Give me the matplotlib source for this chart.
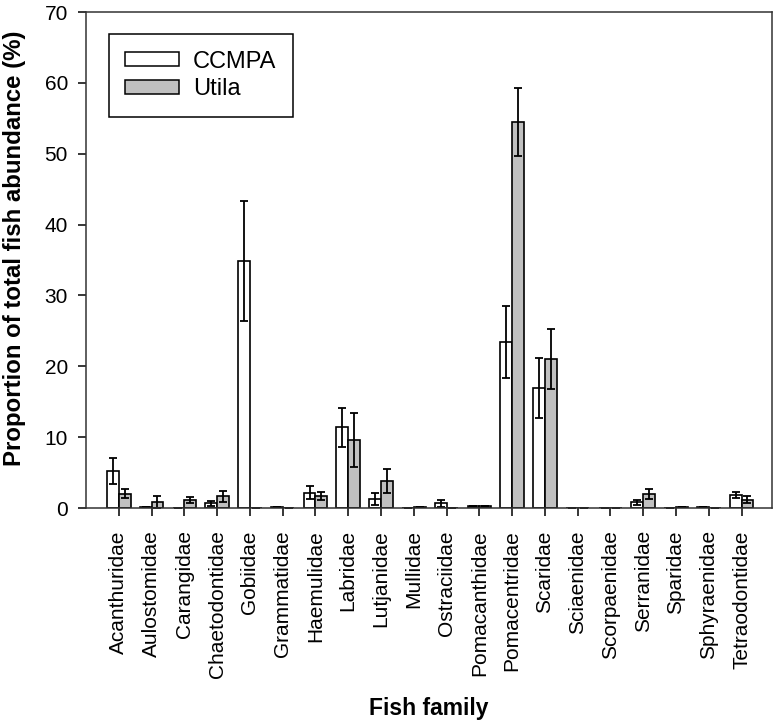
import numpy as np
import matplotlib
matplotlib.use("Agg")
import matplotlib.pyplot as plt

families = ["Acanthuridae", "Aulostomidae", "Carangidae", "Chaetodontidae", "Gobiidae",
            "Grammatidae", "Haemulidae", "Labridae", "Lutjanidae", "Mullidae",
            "Ostraciidae", "Pomacanthidae", "Pomacentridae", "Scaridae", "Sciaenidae",
            "Scorpaenidae", "Serranidae", "Sparidae", "Sphyraenidae", "Tetraodontidae"]
ccmpa = [5.2, 0.2, 0.0, 0.7, 34.85, 0.2, 2.15, 11.4, 1.25, 0.0,
         0.7, 0.3, 23.4, 16.95, 0.0, 0.0, 0.8, 0.0, 0.2, 1.8]
ccmpa_se = [1.85, 0.0, 0.0, 0.35, 8.45, 0.0, 0.9, 2.75, 0.85, 0.0,
            0.5, 0.0, 5.1, 4.2, 0.0, 0.0, 0.4, 0.0, 0.0, 0.4]
utila = [2.0, 0.85, 1.1, 1.65, 0.0, 0.0, 1.75, 9.6, 3.85, 0.1,
         0.0, 0.3, 54.5, 21.0, 0.0, 0.05, 2.0, 0.2, 0.05, 1.2]
utila_se = [0.65, 0.85, 0.45, 0.75, 0.0, 0.0, 0.55, 3.8, 1.7, 0.0,
            0.0, 0.0, 4.8, 4.25, 0.0, 0.0, 0.75, 0.0, 0.0, 0.55]

plt.rcParams['font.family'] = ['Liberation Sans', 'DejaVu Sans']


def build_graph():
    fig = plt.figure(figsize=(7.79, 7.25), dpi=100)
    ax = fig.add_axes([0.1104, 0.2993, 0.9906 - 0.1104, 0.9834 - 0.2993])

    x = np.arange(len(families))
    w = 0.36
    err_kw = dict(elinewidth=1.3, capthick=1.3, ecolor='black')
    ax.bar(x - w / 2, ccmpa, w, yerr=ccmpa_se, color='white', edgecolor='black',
           linewidth=1.2, capsize=3.2, error_kw=err_kw, label='CCMPA')
    ax.bar(x + w / 2, utila, w, yerr=utila_se, color='#c0c0c0', edgecolor='black',
           linewidth=1.2, capsize=3.2, error_kw=err_kw, label='Utila')

    ax.set_xlim(-1, 19.92)
    ax.set_ylim(0, 70)
    ax.set_yticks(range(0, 71, 10))
    ax.set_xticks(x)
    ax.set_xticklabels(families, rotation=90)
    ax.tick_params(axis='both', direction='out', length=6, width=1.1, labelsize=15, pad=7)
    ax.tick_params(axis='x', pad=10)
    for s in ax.spines.values():
        s.set_linewidth(1.1)
        s.set_color('#333333')

    ax.set_ylabel("Proportion of total fish abundance (%)", fontsize=17.3, fontweight='bold')
    ax.yaxis.set_label_coords(-0.088, 0.523)
    ax.set_xlabel("Fish family", fontsize=16.5, fontweight='bold')
    ax.xaxis.set_label_coords(0.5, -0.381)

    leg = ax.legend(loc='upper left', bbox_to_anchor=(0.0335, 0.9556), borderaxespad=0,
                    fontsize=17, fancybox=False, edgecolor='black', framealpha=1,
                    handlelength=2.25, handleheight=0.55, handletextpad=0.6,
                    borderpad=0.7, labelspacing=0.23)
    leg.get_frame().set_linewidth(1.1)
    for h in leg.legend_handles:
        h.set_linewidth(1.1)

    fig.savefig("out.png", dpi=100)


def main():
    build_graph()


if __name__ == "__main__":
    main()
